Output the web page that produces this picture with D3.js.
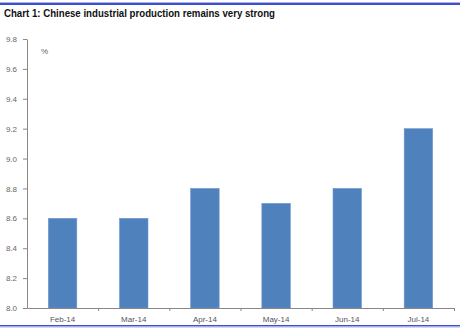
<!DOCTYPE html>
<html><head><meta charset="utf-8">
<script src="https://cdn.jsdelivr.net/npm/d3@7"></script>
<style>body{margin:0;background:#fff}svg{display:block}</style>
</head><body>
<svg id="c" width="460" height="331"></svg>
<script>
const categories = ["Feb-14","Mar-14","Apr-14","May-14","Jun-14","Jul-14"];
const values = [8.6, 8.6, 8.8, 8.7, 8.8, 9.2];
const yTicks = [8.0, 8.2, 8.4, 8.6, 8.8, 9.0, 9.2, 9.4, 9.6, 9.8];
const title = "Chart 1: Chinese industrial production remains very strong";
const unit = "%";

const svg = d3.select("#c");
// borders
svg.append("rect").attr("x",0).attr("y",2).attr("width",460).attr("height",1).attr("fill","#a9b4e8");
svg.append("rect").attr("x",0).attr("y",3).attr("width",460).attr("height",2).attr("fill","#3f4fd0");
svg.append("rect").attr("x",0).attr("y",325).attr("width",460).attr("height",1.5).attr("fill","#3f4fd0");
svg.append("rect").attr("x",0).attr("y",326.5).attr("width",460).attr("height",1).attr("fill","#a9b4e8");

svg.append("text").attr("x",4).attr("y",16.5).text(title)
  .attr("font-family","Liberation Sans, Arial, sans-serif").attr("font-weight","bold")
  .attr("font-size",11.5).attr("fill","#111").attr("textLength",271).attr("lengthAdjust","spacingAndGlyphs");

const x0 = 27, x1 = 454, yTop = 39, yBot = 308;
const x = d3.scaleBand().domain(categories).range([x0, x1]).paddingInner(0.6).paddingOuter(0.3);
const y = d3.scaleLinear().domain([8.0, 9.8]).range([yBot, yTop]);

svg.append("g").selectAll("rect").data(values).join("rect")
  .attr("x",(d,i)=>x(categories[i])).attr("width",x.bandwidth())
  .attr("y",d=>y(d)).attr("height",d=>yBot-y(d))
  .attr("fill","#4f81bd").attr("stroke","#6c97cc").attr("stroke-width",0.6);

const yAxis = svg.append("g").attr("transform",`translate(${x0},0)`)
  .call(d3.axisLeft(y).tickValues(yTicks).tickFormat(d3.format(".1f")).tickSize(4).tickSizeOuter(0).tickPadding(6));
yAxis.select(".domain").attr("stroke","#888");
yAxis.selectAll(".tick line").attr("stroke","#888");
yAxis.selectAll("text").attr("fill","#666").attr("font-size",8).attr("font-family","Liberation Sans, Arial, sans-serif");

// x axis: baseline with ticks between categories
const xb = d3.scaleLinear().domain([0, categories.length]).range([x0, x1]);
const xAxis = svg.append("g").attr("transform",`translate(0,${yBot})`)
  .call(d3.axisBottom(xb).tickValues(d3.range(1, categories.length+1)).tickSize(3).tickSizeOuter(0).tickFormat(""));
xAxis.select(".domain").attr("stroke","#888");
xAxis.selectAll(".tick line").attr("stroke","#888");

svg.append("g").selectAll("text").data(categories).join("text")
  .attr("x",d=>x(d)+x.bandwidth()/2).attr("y",yBot+14).attr("text-anchor","middle")
  .text(d=>d).attr("fill","#555").attr("font-size",8).attr("font-family","Liberation Sans, Arial, sans-serif");

svg.append("text").attr("x",41).attr("y",54).text(unit)
  .attr("fill","#666").attr("font-size",8).attr("font-family","Liberation Sans, Arial, sans-serif");
</script>
</body></html>
